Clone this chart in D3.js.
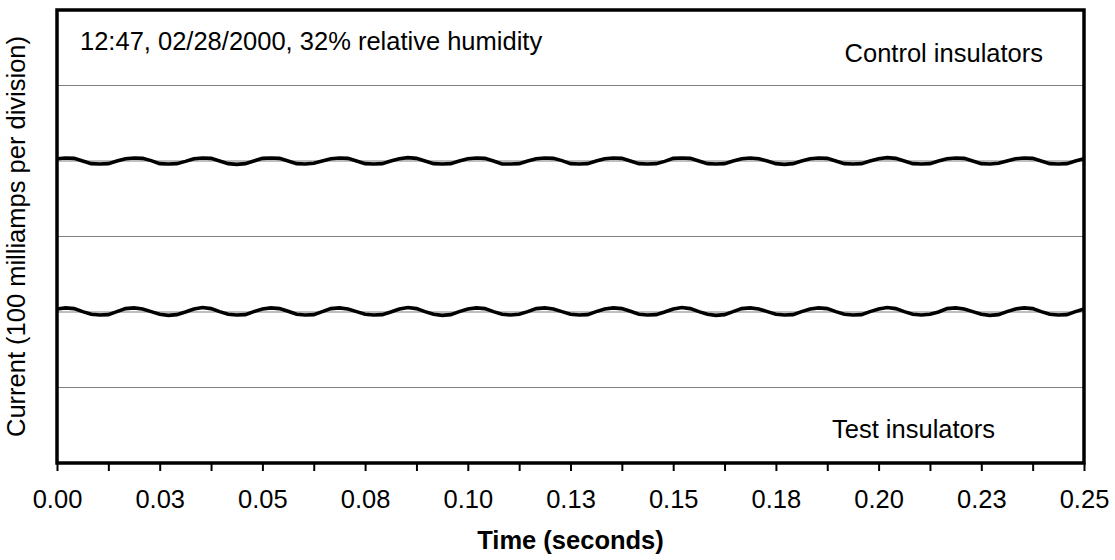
<!DOCTYPE html>
<html>
<head>
<meta charset="utf-8">
<script src="https://cdn.jsdelivr.net/npm/d3@7"></script>
<style>
  html, body { margin: 0; padding: 0; background: #ffffff; }
  svg { display: block; }
  text { font-family: "Liberation Sans", Arial, sans-serif; fill: #000; }
</style>
</head>
<body>
<svg id="chart" width="1115" height="560"></svg>
<script>
// ---------------- DATA ----------------
// sample interval (seconds) of the recorded traces (8 samples per 60 Hz cycle)
const sampleInterval = 1 / 480;
// trace baselines in milliamps (100 mA per division)
const traceNames = ["Control insulators", "Test insulators"];
const traceBaselines = [400, 200];
// deviation from baseline (mA)
const controlCurrent = [
  3, 4, 3.5, 0, -3.5, -4, -3.5, 0,
  3, 4, 3.5, 0.5, -3.5, -4, -3.5, -0.5,
  3, 4, 3.5, 0, -3.5, -4.5, -3.5, 0,
  3.5, 4, 3.5, 0, -3.5, -4, -3, 0,
  3, 4, 3.5, 0, -3.5, -4, -3.5, 0,
  3, 4.5, 3.5, 0, -3.5, -4, -3.5, 0,
  3, 4, 3.5, 0, -4, -4, -3.5, 0,
  3, 4, 3.5, 0.5, -3.5, -4, -3.5, 0,
  3, 4, 3.5, 0, -3.5, -4, -3.5, -0.5,
  3.5, 4, 3.5, 0, -3.5, -4, -3.5, 0,
  3, 4, 3, 0, -3.5, -4.5, -3.5, 0,
  3, 4, 3.5, 0, -3.5, -4, -3.5, 0,
  3, 4.5, 3.5, 0, -3.5, -4, -3.5, 0,
  3, 4, 3.5, 0, -3.5, -4, -3, 0,
  3, 4, 3.5, 0, -3.5, -4, -3.5, 0,
  3
];
const testCurrent = [
  4, 5.5, 4.5, 0.5, -3, -4, -3.5, 0.5,
  4.5, 5.5, 4, 0.5, -3, -4.5, -3.5, 0,
  4, 6, 4.5, 0.5, -3, -4, -3.5, 0.5,
  4, 5.5, 4.5, 1, -3, -4, -3.5, 0.5,
  4.5, 5.5, 4, 0.5, -3, -4, -3.5, 0,
  4, 6, 4.5, 0.5, -3, -4.5, -3.5, 0.5,
  4, 5.5, 4.5, 0.5, -3, -4, -3, 0.5,
  4.5, 5.5, 4, 0.5, -3, -4, -3.5, 0.5,
  4, 5.5, 4.5, 1, -3, -4, -3.5, 0,
  4, 6, 4.5, 0.5, -3, -4.5, -3.5, 0.5,
  4.5, 5.5, 4, 0.5, -3, -4, -3.5, 0.5,
  4, 5.5, 4.5, 0.5, -3, -4, -3.5, 0.5,
  4, 6, 4.5, 0.5, -3, -4, -3, 0,
  4.5, 5.5, 4, 0.5, -3, -4.5, -3.5, 0.5,
  4, 5.5, 4.5, 0.5, -3, -4, -3.5, 0.5,
  4
];
// x-axis ticks (seconds) and their labels
const xTickValues = [0, 0.0125, 0.025, 0.0375, 0.05, 0.0625, 0.075, 0.0875, 0.1, 0.1125,
  0.125, 0.1375, 0.15, 0.1625, 0.175, 0.1875, 0.2, 0.2125, 0.225, 0.2375, 0.25];
const xTickLabels = ["0.00", "", "0.03", "", "0.05", "", "0.08", "", "0.10", "",
  "0.13", "", "0.15", "", "0.18", "", "0.20", "", "0.23", "", "0.25"];
// horizontal division lines (mA)
const gridValues = [100, 200, 300, 400, 500];
const annotation = "12:47, 02/28/2000, 32% relative humidity";
const xTitle = "Time (seconds)";
const yTitle = "Current (100 milliamps per division)";

// ---------------- CHART ----------------
const svg = d3.select("#chart");
const plot = { left: 57, right: 1084, top: 10, bottom: 463 };
const FS = 25.5;

const x = d3.scaleLinear().domain([0, 0.25]).range([plot.left, plot.right]);
const y = d3.scaleLinear().domain([0, 600]).range([plot.bottom, plot.top]);

// grid lines
svg.append("g").selectAll("line").data(gridValues).join("line")
  .attr("x1", plot.left).attr("x2", plot.right)
  .attr("y1", d => y(d)).attr("y2", d => y(d))
  .attr("stroke", "#808080").attr("stroke-width", 1.2);

// traces
const series = [controlCurrent, testCurrent];
const line = d3.line()
  .x((d, i) => x(i * sampleInterval))
  .y(d => d);
series.forEach((vals, si) => {
  const pts = vals.map(v => y(traceBaselines[si] + v));
  svg.append("path")
    .datum(pts)
    .attr("fill", "none")
    .attr("stroke", "#000")
    .attr("stroke-width", 3.6)
    .attr("stroke-linejoin", "miter")
    .attr("d", line);
});

// x axis ticks and labels
const xAxis = d3.axisBottom(x)
  .tickValues(xTickValues)
  .tickFormat((d, i) => xTickLabels[i])
  .tickSize(8)
  .tickPadding(19);
const gx = svg.append("g").attr("transform", `translate(0,${plot.bottom})`).call(xAxis);
gx.select(".domain").remove();
gx.selectAll(".tick line").attr("stroke", "#000").attr("stroke-width", 2);
gx.selectAll(".tick text")
  .attr("font-family", "Liberation Sans, Arial, sans-serif")
  .attr("font-size", FS).attr("fill", "#000");

// frame
svg.append("rect")
  .attr("x", plot.left).attr("y", plot.top)
  .attr("width", plot.right - plot.left).attr("height", plot.bottom - plot.top)
  .attr("fill", "none").attr("stroke", "#000").attr("stroke-width", 3.5);

// annotations
svg.append("text").attr("x", 80).attr("y", 50).attr("font-size", FS).text(annotation);
svg.append("text").attr("x", 1043).attr("y", 62).attr("text-anchor", "end")
  .attr("font-size", FS).text(traceNames[0]);
svg.append("text").attr("x", 995).attr("y", 438).attr("text-anchor", "end")
  .attr("font-size", FS).text(traceNames[1]);

// axis titles
svg.append("text").attr("x", (plot.left + plot.right) / 2).attr("y", 549)
  .attr("text-anchor", "middle").attr("font-size", FS).attr("font-weight", "bold")
  .text(xTitle);
svg.append("text")
  .attr("transform", `translate(25,${(plot.top + plot.bottom) / 2}) rotate(-90)`)
  .attr("text-anchor", "middle").attr("font-size", FS)
  .text(yTitle);
</script>
</body>
</html>
